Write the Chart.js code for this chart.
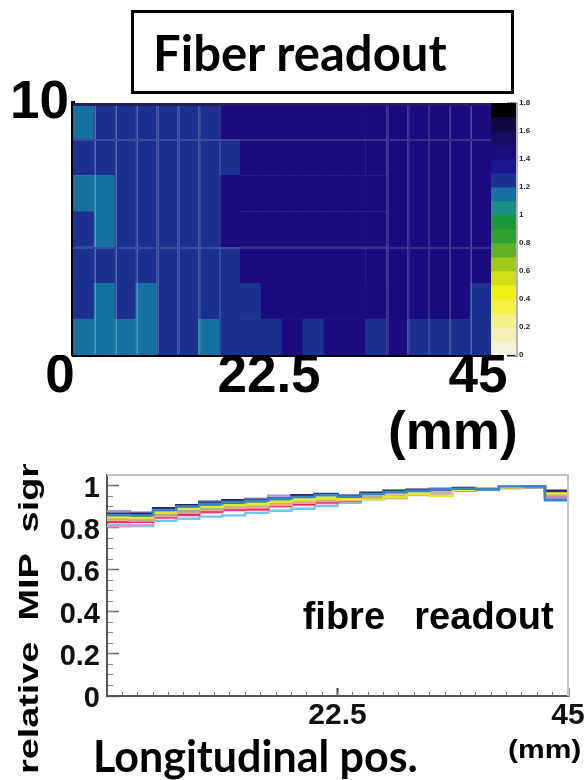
<!DOCTYPE html>
<html>
<head>
<meta charset="utf-8">
<script src="https://cdn.jsdelivr.net/npm/chart.js@4.4.1/dist/chart.umd.min.js"></script>
<style>
  html, body { margin: 0; padding: 0; background: #fff; }
  body { width: 588px; height: 780px; position: relative; overflow: hidden; }
  canvas { position: absolute; }
  #titleBox {
    position: absolute; left: 131px; top: 10px; height: 78px;
    border: 3px solid #000; box-sizing: content-box;
    font: bold 49px Lato, sans-serif; color: #000;
    display: flex; align-items: center; padding-left: 19px; width: 358px;
  }
</style>
</head>
<body>
<div id="titleBox">Fiber readout</div>
<canvas id="heat" width="588" height="385" style="left:0;top:80px"></canvas>
<canvas id="zbar" width="70" height="280" style="left:485px;top:90px"></canvas>
<canvas id="mip" width="588" height="316" style="left:0;top:464px"></canvas>
<script>
// ===== DATA =====
// bin edges along the tile (mm), shared by both plots
const posEdges = [0, 2.25, 4.5, 6.75, 9, 11.25, 13.5, 15.75, 18, 20.25, 22.5,
  24.75, 27, 29.25, 31.5, 33.75, 36, 38.25, 40.5, 42.75, 45];
// transverse bin edges of the map (mm)
const rowEdges = [0, 1.43, 2.86, 4.29, 5.71, 7.14, 8.57, 10];

// map values, bottom row first (colour scale units)
const heatRow0 = [1.15, 1.15, 1.15, 1.15, 1.25, 1.25, 1.15, 1.25, 1.25, 1.25, 1.45, 1.25, 1.45, 1.45, 1.25, 1.45, 1.25, 1.25, 1.25, 1.25];
const heatRow1 = [1.25, 1.15, 1.25, 1.15, 1.25, 1.25, 1.25, 1.25, 1.25, 1.45, 1.45, 1.45, 1.45, 1.45, 1.45, 1.45, 1.45, 1.45, 1.45, 1.25];
const heatRow2 = [1.25, 1.25, 1.25, 1.25, 1.25, 1.25, 1.25, 1.25, 1.45, 1.45, 1.45, 1.45, 1.45, 1.45, 1.45, 1.45, 1.45, 1.45, 1.45, 1.45];
const heatRow3 = [1.25, 1.15, 1.25, 1.25, 1.25, 1.25, 1.25, 1.45, 1.45, 1.45, 1.45, 1.45, 1.45, 1.45, 1.45, 1.45, 1.45, 1.45, 1.45, 1.45];
const heatRow4 = [1.15, 1.15, 1.25, 1.25, 1.25, 1.25, 1.25, 1.45, 1.45, 1.45, 1.45, 1.45, 1.45, 1.45, 1.45, 1.45, 1.45, 1.45, 1.45, 1.45];
const heatRow5 = [1.25, 1.25, 1.25, 1.25, 1.25, 1.25, 1.25, 1.25, 1.45, 1.45, 1.45, 1.45, 1.45, 1.45, 1.45, 1.45, 1.45, 1.45, 1.45, 1.45];
const heatRow6 = [1.15, 1.25, 1.25, 1.25, 1.25, 1.25, 1.25, 1.45, 1.45, 1.45, 1.45, 1.45, 1.45, 1.45, 1.45, 1.45, 1.45, 1.45, 1.45, 1.45];
const heatRows = [heatRow0, heatRow1, heatRow2, heatRow3, heatRow4, heatRow5, heatRow6];

// colour scale, lowest level first, each level 0.1 wide
const zLevels = ['#f4f4dc', '#f4f0b4', '#f4f084', '#f4f044', '#f0f014', '#d0e018',
  '#a0c818', '#60b028', '#30a030', '#189838', '#1a9080', '#1670a0', '#1c3090',
  '#1c1490', '#1a0c7e', '#160c60', '#100840', '#000000'];
const zTicks = [0, 0.2, 0.4, 0.6, 0.8, 1, 1.2, 1.4, 1.6, 1.8];

const heatXTicks = [0, 22.5, 45];
const heatYTicks = [10];

// relative MIP signal per bin
const mipLavender = [0.878, 0.872, 0.885, 0.905, 0.925, 0.930, 0.937, 0.952, 0.945, 0.958, 0.950, 0.962, 0.970, 0.978, 0.980, 0.982, 0.985, 0.990, 0.992, 0.940];
const mipNavy     = [0.866, 0.866, 0.892, 0.906, 0.918, 0.930, 0.932, 0.940, 0.954, 0.960, 0.952, 0.966, 0.972, 0.980, 0.982, 0.988, 0.985, 0.993, 0.995, 0.976];
const mipGreen    = [0.858, 0.855, 0.880, 0.898, 0.905, 0.918, 0.925, 0.935, 0.948, 0.958, 0.945, 0.962, 0.977, 0.975, 0.980, 0.985, 0.983, 0.992, 0.994, 0.968];
const mipLime     = [0.852, 0.850, 0.878, 0.893, 0.902, 0.912, 0.918, 0.928, 0.938, 0.945, 0.940, 0.955, 0.965, 0.972, 0.975, 0.982, 0.985, 0.990, 0.992, 0.965];
const mipYellow   = [0.848, 0.846, 0.872, 0.890, 0.898, 0.906, 0.910, 0.922, 0.930, 0.938, 0.935, 0.934, 0.945, 0.960, 0.950, 0.978, 0.986, 0.990, 0.996, 0.962];
const mipGray     = [0.842, 0.838, 0.862, 0.878, 0.890, 0.900, 0.905, 0.918, 0.928, 0.935, 0.938, 0.948, 0.940, 0.968, 0.970, 0.980, 0.982, 0.990, 0.992, 0.958];
const mipSalmon   = [0.836, 0.834, 0.855, 0.872, 0.884, 0.893, 0.895, 0.908, 0.918, 0.926, 0.932, 0.945, 0.952, 0.958, 0.965, 0.978, 0.980, 0.988, 0.992, 0.955];
const mipRed      = [0.826, 0.828, 0.850, 0.862, 0.876, 0.886, 0.888, 0.905, 0.912, 0.920, 0.930, 0.940, 0.950, 0.962, 0.968, 0.978, 0.982, 0.990, 0.992, 0.955];
const mipPink     = [0.806, 0.812, 0.846, 0.858, 0.872, 0.882, 0.884, 0.900, 0.908, 0.916, 0.925, 0.940, 0.948, 0.958, 0.962, 0.976, 0.980, 0.988, 0.990, 0.950];
const mipCyan     = [0.812, 0.808, 0.832, 0.842, 0.852, 0.858, 0.870, 0.880, 0.890, 0.902, 0.918, 0.935, 0.945, 0.955, 0.960, 0.975, 0.978, 0.988, 0.990, 0.935];
const mipBlue     = [0.860, 0.858, 0.884, 0.900, 0.912, 0.922, 0.928, 0.938, 0.946, 0.955, 0.948, 0.960, 0.968, 0.975, 0.985, 0.985, 0.982, 0.996, 0.997, 0.930];
const mipSeries = [mipBlue, mipYellow, mipNavy, mipLavender, mipGreen, mipLime, mipGray, mipSalmon, mipRed, mipPink, mipCyan];
const mipColors = ['#3a86c4', '#e6e62a', '#23276a', '#9c94d4', '#2f8f4e', '#bcd86a', '#a8a8a8', '#f4a890', '#e8245e', '#f090c8', '#6cc8ec'];

const mipYTicks = [0, 0.2, 0.4, 0.6, 0.8, 1];
const mipXTicks = [22.5, 45];

// ===== HELPERS =====
const ARIAL = 'Liberation Sans';

function setTicks(vals) {
  return s => { s.ticks = vals.map(v => ({ value: v })); };
}

function zColor(v) {
  const k = Math.max(0, Math.min(zLevels.length - 1, Math.floor(v / 0.1)));
  return zLevels[k];
}

function lighten(hex, f) {
  const n = parseInt(hex.slice(1), 16);
  const ch = [(n >> 16) & 255, (n >> 8) & 255, n & 255].map(c => Math.round(c + (255 - c) * f));
  return 'rgb(' + ch.join(',') + ')';
}

// free text drawn on top of a chart
function notes(items) {
  return {
    id: 'notes',
    afterDraw(chart) {
      const ctx = chart.ctx;
      items.forEach(n => {
        const p = n.at(chart);
        ctx.save();
        ctx.translate(p[0], p[1]);
        if (n.rot) ctx.rotate(n.rot);
        ctx.scale(n.sx || 1, 1);
        ctx.font = n.font;
        ctx.fillStyle = '#000';
        ctx.textAlign = 'left';
        ctx.textBaseline = 'alphabetic';
        ctx.fillText(n.text, 0, 0);
        ctx.restore();
      });
    }
  };
}

// ===== MAP =====
const seamCols = [1, 2, 3, 4, 5, 6, 7, 15, 16, 17, 18, 19];
const seamRows = [2, 5];

const heatDatasets = heatRows.map((row, r) => ({
  data: row.map((v, c) => ({ x: (posEdges[c] + posEdges[c + 1]) / 2, y: [rowEdges[r], rowEdges[r + 1]], v: v })),
  backgroundColor: ctx => ctx.raw ? zColor(ctx.raw.v) : '#000',
  borderColor: ctx => ctx.raw ? lighten(zColor(ctx.raw.v), 0.13) : '#000',
  borderWidth: ctx => ({
    left: seamCols.includes(ctx.dataIndex) ? 2 : 0,
    top: seamRows.includes(r) ? 2 : 0,
    right: 0, bottom: 0
  }),
  borderSkipped: false,
  barPercentage: 1.03,
  categoryPercentage: 1,
  grouped: false
}));

const bigFont = { family: ARIAL, weight: 'bold', size: 53, lineHeight: 1 };

const heatFrame = {
  id: 'heatFrame',
  afterDraw(chart) {
    const a = chart.chartArea, ctx = chart.ctx;
    ctx.save();
    ctx.strokeStyle = '#22205c';
    ctx.lineWidth = 3;
    ctx.beginPath();
    ctx.moveTo(a.left, a.top + 1.5);
    ctx.lineTo(a.right, a.top + 1.5);
    ctx.stroke();
    ctx.restore();
  }
};

new Chart(document.getElementById('heat'), {
  type: 'bar',
  data: { datasets: heatDatasets },
  options: {
    responsive: false,
    animation: false,
    layout: { padding: { top: 23, right: 97, left: 0, bottom: 0 } },
    plugins: { legend: { display: false }, tooltip: { enabled: false } },
    scales: {
      x: {
        type: 'linear', min: 0, max: 45, offset: false,
        afterBuildTicks: setTicks(heatXTicks),
        afterFit: s => { s.height = 110; s.paddingLeft = 0; s.paddingRight = 0; },
        grid: { display: false, drawTicks: false, offset: false },
        border: { color: '#000', width: 3 },
        ticks: { font: bigFont, color: '#000', padding: -4, labelOffset: -13, maxRotation: 0, autoSkip: false, callback: v => String(v) }
      },
      y: {
        min: 0, max: 10,
        afterBuildTicks: setTicks(heatYTicks),
        afterFit: s => { s.width = 73; s.paddingTop = 0; s.paddingBottom = 0; },
        grid: { display: false, drawTicks: false },
        border: { color: '#000', width: 4 },
        ticks: { font: bigFont, color: '#000', padding: 4, callback: v => String(v) }
      }
    }
  },
  plugins: [heatFrame, notes([
    { text: '(mm)', font: 'bold 53px ' + ARIAL, at: c => [388, 369] }
  ])]
});

// ===== COLOUR BAR =====
new Chart(document.getElementById('zbar'), {
  type: 'bar',
  data: {
    labels: ['z'],
    datasets: [{
      data: zLevels.map((col, k) => ({ x: 'z', y: [k * 0.1, (k + 1) * 0.1] })),
      backgroundColor: zLevels,
      borderWidth: 0,
      barPercentage: 1,
      categoryPercentage: 1
    }]
  },
  options: {
    responsive: false,
    animation: false,
    layout: { padding: { top: 13, left: 6, right: 0, bottom: 15 } },
    plugins: { legend: { display: false }, tooltip: { enabled: false } },
    scales: {
      x: { display: false },
      y: {
        position: 'right', min: 0, max: 1.8,
        afterBuildTicks: setTicks(zTicks),
        afterFit: s => { s.width = 39; s.paddingTop = 0; s.paddingBottom = 0; },
        grid: { drawOnChartArea: false, tickLength: -9, tickColor: '#222', tickWidth: 2 },
        border: { color: '#b4b4b4', width: 3 },
        ticks: { font: { family: ARIAL, weight: 'bold', size: 8 }, color: '#222', padding: 12, callback: v => String(v) }
      }
    }
  }
});

// ===== MIP PROFILE =====
const lineDatasets = mipSeries.map((vals, i) => ({
  data: vals.map((v, k) => ({ x: posEdges[k], y: v })).concat([{ x: posEdges[posEdges.length - 1], y: vals[vals.length - 1] }]),
  borderColor: mipColors[i],
  borderWidth: 2.4,
  pointRadius: 0,
  stepped: true,
  fill: false
}));

const frame = {
  id: 'frame',
  afterDraw(chart) {
    const a = chart.chartArea, ctx = chart.ctx;
    ctx.save();
    ctx.strokeStyle = '#c4c4c4';
    ctx.lineWidth = 2;
    ctx.beginPath();
    ctx.moveTo(a.left, a.top);
    ctx.lineTo(a.right, a.top);
    ctx.lineTo(a.right, a.bottom);
    ctx.stroke();
    ctx.restore();
  }
};

const minorX = [];
for (let v = 0; v <= 45; v += 1.5) minorX.push(v);
const minorY = [];
for (let v = 0; v <= 1.05; v += 0.05) minorY.push(v);

const tickFont = { family: ARIAL, weight: 'bold', size: 29, lineHeight: 1 };

new Chart(document.getElementById('mip'), {
  type: 'line',
  data: { datasets: lineDatasets },
  options: {
    responsive: false,
    animation: false,
    layout: { padding: { top: 11, right: 20, left: 0, bottom: 0 } },
    plugins: { legend: { display: false }, tooltip: { enabled: false } },
    scales: {
      x: {
        type: 'linear', min: 0, max: 45, weight: 1,
        afterBuildTicks: setTicks(mipXTicks),
        afterFit: s => { s.height = 84; s.paddingLeft = 0; s.paddingRight = 0; },
        grid: { drawOnChartArea: false, tickLength: -8, tickColor: '#444', tickWidth: 2 },
        border: { color: '#555', width: 2 },
        ticks: { font: { family: ARIAL, weight: 'bold', size: 30, lineHeight: 1 }, color: '#111', padding: 13, maxRotation: 0, autoSkip: false, callback: v => String(v) }
      },
      x2: {
        type: 'linear', position: 'bottom', min: 0, max: 45, weight: 0,
        afterBuildTicks: setTicks(minorX),
        afterFit: s => { s.height = 0; s.paddingLeft = 0; s.paddingRight = 0; },
        grid: { drawOnChartArea: false, tickLength: -4, tickColor: '#777', tickWidth: 1 },
        border: { display: false },
        ticks: { display: false }
      },
      y: {
        min: 0, max: 1.05, weight: 1,
        afterBuildTicks: setTicks(mipYTicks),
        afterFit: s => { s.width = 107; s.paddingTop = 0; s.paddingBottom = 0; },
        grid: { drawOnChartArea: false, tickLength: -12, tickColor: '#666', tickWidth: 1.5 },
        border: { color: '#555', width: 2 },
        ticks: { font: tickFont, color: '#111', padding: 19, labelOffset: 3, callback: v => String(v) }
      },
      y2: {
        position: 'left', min: 0, max: 1.05, weight: 0,
        afterBuildTicks: setTicks(minorY),
        afterFit: s => { s.width = 0; s.paddingTop = 0; s.paddingBottom = 0; },
        grid: { drawOnChartArea: false, tickLength: -6, tickColor: '#888', tickWidth: 1 },
        border: { display: false },
        ticks: { display: false }
      }
    }
  },
  plugins: [frame, notes([
    { text: 'fibre', font: 'bold 38px ' + ARIAL, at: c => [c.scales.x.getPixelForValue(19.1), c.scales.y.getPixelForValue(0.32)] },
    { text: 'readout', font: 'bold 38px ' + ARIAL, at: c => [c.scales.x.getPixelForValue(30.0), c.scales.y.getPixelForValue(0.32)] },
    { text: 'relative  MIP  signal', font: 'bold 27px ' + ARIAL, rot: -Math.PI / 2, sx: 1.4, at: c => [38, 310] },
    { text: 'Longitudinal pos.', font: 'bold 43px Lato', at: c => [93, 308] },
    { text: '(mm)', font: 'bold 25px ' + ARIAL, sx: 1.2, at: c => [508, 294] }
  ])]
});
</script>
</body>
</html>
